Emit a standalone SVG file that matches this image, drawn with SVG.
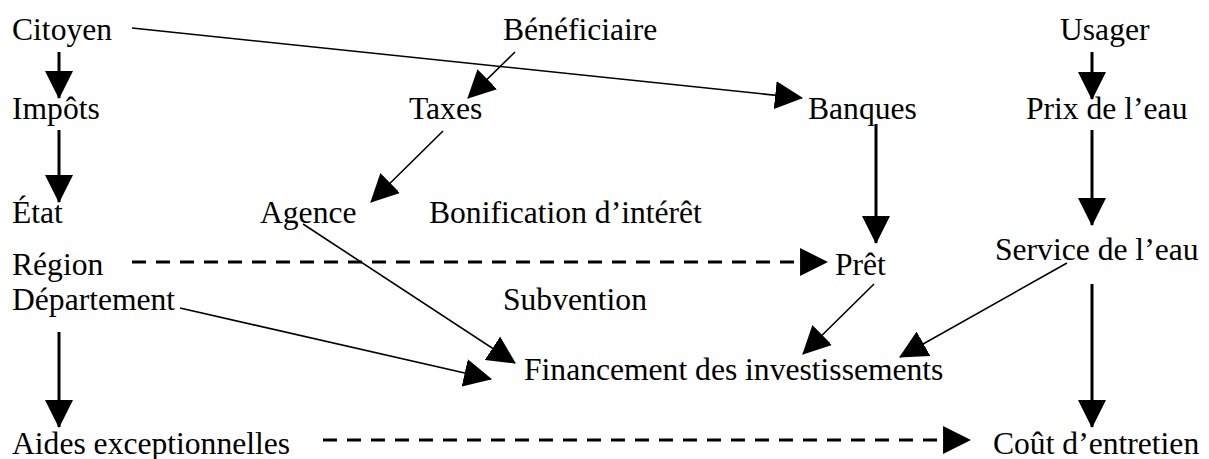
<svg xmlns="http://www.w3.org/2000/svg" width="1209" height="459" viewBox="0 0 1209 459">
<style>
text{font-family:"Liberation Serif","Times New Roman",serif;font-size:31.6px;fill:#000}
.thick{stroke:#000;stroke-width:3;fill:none}
.thin{stroke:#000;stroke-width:1.6;fill:none}
.dash{stroke:#000;stroke-width:3;fill:none;stroke-dasharray:14 10}
</style>
<defs>
<marker id="ah" markerUnits="userSpaceOnUse" markerWidth="28" markerHeight="28" viewBox="0 0 27 27" refX="26" refY="13.5" orient="auto">
<path d="M0,0 L27,13.5 L0,27 z" fill="#000"/>
</marker>
</defs>
<rect width="1209" height="459" fill="#fff"/>
<g id="citoyen"><text x="12" y="40">Citoyen</text></g>
<g id="beneficiaire"><text x="503" y="40">Bénéficiaire</text></g>
<g id="usager"><text x="1060" y="40">Usager</text></g>
<g id="impots"><text x="12" y="119">Impôts</text></g>
<g id="taxes"><text x="409" y="119">Taxes</text></g>
<g id="banques"><text x="808" y="119">Banques</text></g>
<g id="prix"><text x="1026" y="119">Prix de l’eau</text></g>
<g id="etat"><text x="12" y="223">État</text></g>
<g id="agence"><text x="260" y="223">Agence</text></g>
<g id="bonification"><text x="429" y="223">Bonification d’intérêt</text></g>
<g id="region"><text x="12" y="275">Région</text></g>
<g id="pret"><text x="835" y="275">Prêt</text></g>
<g id="service"><text x="995" y="260">Service de l’eau</text></g>
<g id="departement"><text x="12" y="310">Département</text></g>
<g id="subvention"><text x="503" y="310">Subvention</text></g>
<g id="financement"><text x="524" y="380">Financement des investissements</text></g>
<g id="aides"><text x="12" y="454">Aides exceptionnelles</text></g>
<g id="cout"><text x="993" y="454">Coût d’entretien</text></g>
<g id="connectors">
<line class="thick" x1="59" y1="52" x2="59" y2="98" marker-end="url(#ah)"/>
<line class="thick" x1="59" y1="130" x2="59" y2="202" marker-end="url(#ah)"/>
<line class="thick" x1="1092" y1="52" x2="1092" y2="99" marker-end="url(#ah)"/>
<line class="thick" x1="1092" y1="130" x2="1092" y2="225" marker-end="url(#ah)"/>
<line class="thick" x1="876" y1="124" x2="876" y2="243" marker-end="url(#ah)"/>
<line class="thick" x1="1092" y1="284" x2="1092" y2="427" marker-end="url(#ah)"/>
<line class="thick" x1="59" y1="332" x2="59" y2="427" marker-end="url(#ah)"/>
<line class="thin" x1="132" y1="28" x2="802" y2="98" marker-end="url(#ah)"/>
<line class="thin" x1="515" y1="52" x2="468" y2="98" marker-end="url(#ah)"/>
<line class="thin" x1="443" y1="131" x2="371" y2="202" marker-end="url(#ah)"/>
<line class="thin" x1="303" y1="224" x2="515" y2="363" marker-end="url(#ah)"/>
<line class="thin" x1="180" y1="308" x2="491" y2="379" marker-end="url(#ah)"/>
<line class="thin" x1="874" y1="284" x2="803" y2="354" marker-end="url(#ah)"/>
<line class="thin" x1="1067" y1="263" x2="900" y2="357" marker-end="url(#ah)"/>
<line class="dash" x1="132" y1="262" x2="827" y2="262" marker-end="url(#ah)"/>
<line class="dash" x1="323" y1="440" x2="970" y2="440" marker-end="url(#ah)"/>
</g>
</svg>
